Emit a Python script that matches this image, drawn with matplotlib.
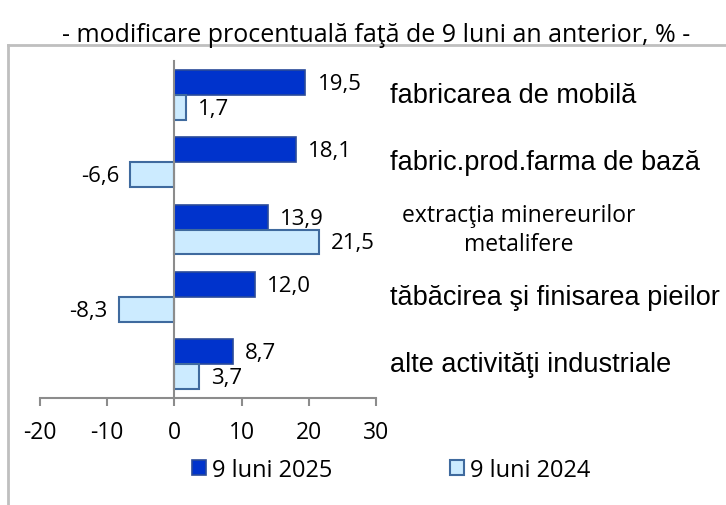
import matplotlib.pyplot as plt
import matplotlib.patches as mpatches
import numpy as np

# ── Data ─────────────────────────────────────────────────────────────────────
categories = [
    "fabricarea de mobilă",
    "fabric.prod.farma de bază",
    "extracţia minereurilor\nmetalifere",
    "tăbăcirea şi finisarea pieilor",
    "alte activităţi industriale",
]
val_2025 = [19.5, 18.1, 13.9, 12.0, 8.7]
val_2024 = [1.7, -6.6, 21.5, -8.3, 3.7]
series_names = ["9 luni 2025", "9 luni 2024"]
x_ticks = [-20, -10, 0, 10, 20, 30]

# ── Style ────────────────────────────────────────────────────────────────────
DARK = "#0033CC"
DARK_EDGE = "#2A4A9A"
LIGHT = "#CCEBFF"
LIGHT_EDGE = "#3F6A9E"
GREY = "#8C8C8C"
FRAME = "#BFBFBF"
CAL = "Open Sans"
ARIAL = "Liberation Sans"

W, H = 726, 506
fig = plt.figure(figsize=(W / 100, H / 100), dpi=100)
ax = fig.add_axes([40 / W, 1 - 399 / H, 336 / W, 337 / H])

y = np.arange(len(categories))
bh = 0.37
b1 = ax.barh(y - bh / 2, val_2025, height=bh, color=DARK, edgecolor=DARK_EDGE, linewidth=1.2, zorder=3)
b2 = ax.barh(y + bh / 2, val_2024, height=bh, color=LIGHT, edgecolor=LIGHT_EDGE, linewidth=1.5, zorder=3)

ax.set_xlim(-20, 30)
ax.set_ylim(len(categories) - 0.5, -0.5)
ax.set_xticks(x_ticks)
ax.set_xticklabels([str(t) for t in x_ticks], fontfamily=CAL, fontsize=16.5)
ax.set_yticks([])

for s in ["top", "right"]:
    ax.spines[s].set_visible(False)
ax.spines["left"].set_position(("data", 0))
ax.spines["left"].set_color(GREY)
ax.spines["left"].set_linewidth(1.5)
ax.spines["left"].set_zorder(4)
ax.spines["bottom"].set_color(GREY)
ax.spines["bottom"].set_linewidth(1.5)
ax.tick_params(axis="x", direction="out", length=6, width=1.5, color=GREY, pad=10)

# value labels (decimal comma)
def fmt(v):
    return f"{v:.1f}".replace(".", ",")

for bars, vals in ((b1, val_2025), (b2, val_2024)):
    for bar, v in zip(bars, vals):
        yc = bar.get_y() + bar.get_height() / 2
        off = 12 if v >= 0 else -11
        ax.annotate(fmt(v), (v, yc), xytext=(off, -1), textcoords="offset pixels",
                    ha="left" if v >= 0 else "right", va="center",
                    fontfamily=CAL, fontsize=16, color="black")

# category labels to the right of the plot
for i, cat in enumerate(categories):
    if "\n" in cat:
        ax.annotate(cat, (1, i), xycoords=("axes fraction", "data"),
                    xytext=(26, 0), textcoords="offset pixels",
                    ha="left", va="center", multialignment="center",
                    fontfamily=CAL, fontsize=16.5, linespacing=1.25)
    else:
        ax.annotate(cat, (1, i), xycoords=("axes fraction", "data"),
                    xytext=(14, 0), textcoords="offset pixels",
                    ha="left", va="center", fontfamily=ARIAL, fontsize=19.5)

# title
fig.text(376 / W, 1 - 35 / H, "- modificare procentuală faţă de 9 luni an anterior, % -",
         ha="center", va="center", fontfamily=CAL, fontsize=18)

# frame (top and left edge)
fig.add_artist(plt.Line2D([8 / W, 1], [1 - 46 / H, 1 - 46 / H], transform=fig.transFigure,
                          color=FRAME, linewidth=2))
fig.add_artist(plt.Line2D([8 / W, 8 / W], [1 - 46 / H, 0], transform=fig.transFigure,
                          color=FRAME, linewidth=2))

# legend
handles = [
    mpatches.Patch(facecolor=DARK, edgecolor=DARK_EDGE, linewidth=1.2, label=series_names[0]),
    mpatches.Patch(facecolor=LIGHT, edgecolor=LIGHT_EDGE, linewidth=1.5, label=series_names[1]),
]
fig.legend(handles=handles, loc="center", bbox_to_anchor=(391 / W, 1 - 471 / H), ncol=2,
           frameon=False, handlelength=0.6, handleheight=0.6, handletextpad=0.25,
           columnspacing=5.0, prop={"family": CAL, "size": 17})

fig.savefig("out.png", dpi=100)
